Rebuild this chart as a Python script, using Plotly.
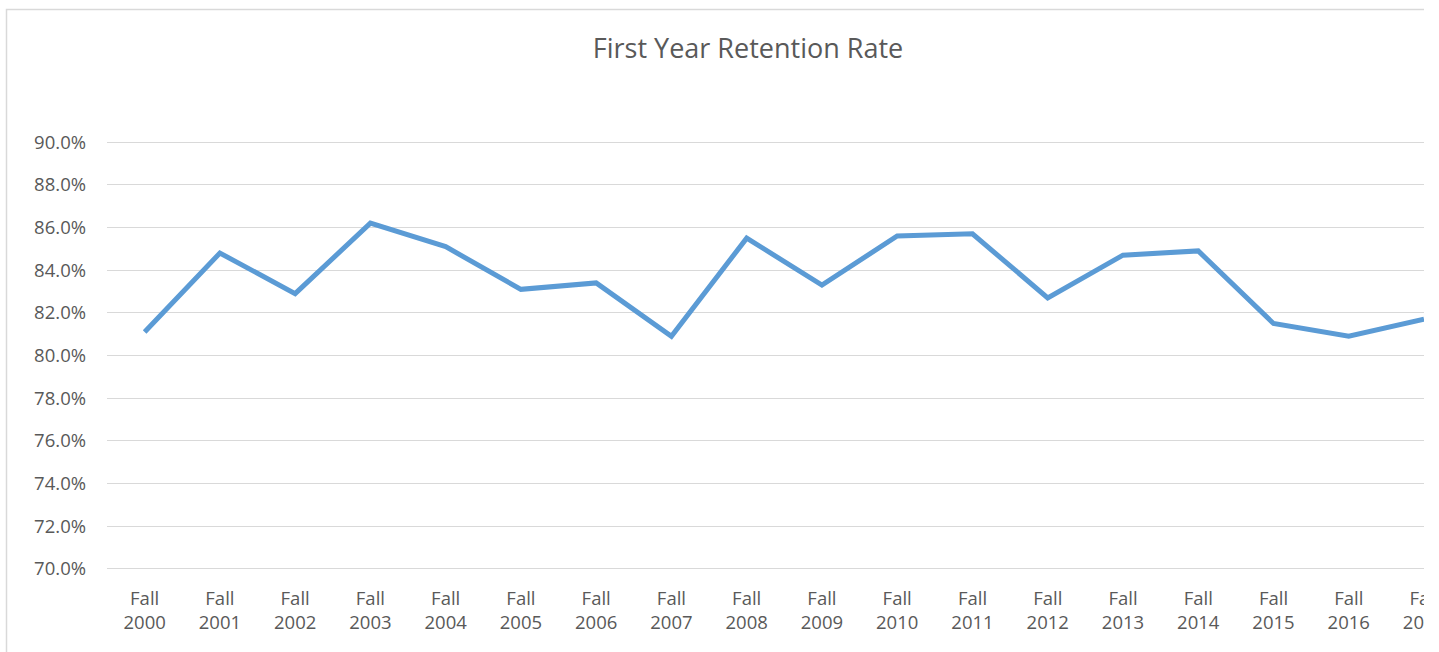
import plotly.graph_objects as go

categories = ["Fall<br>2000", "Fall<br>2001", "Fall<br>2002", "Fall<br>2003", "Fall<br>2004",
              "Fall<br>2005", "Fall<br>2006", "Fall<br>2007", "Fall<br>2008", "Fall<br>2009",
              "Fall<br>2010", "Fall<br>2011", "Fall<br>2012", "Fall<br>2013", "Fall<br>2014",
              "Fall<br>2015", "Fall<br>2016", "Fall<br>2017"]
retention = [81.1, 84.8, 82.9, 86.2, 85.1, 83.1, 83.4, 80.9, 85.5, 83.3,
             85.6, 85.7, 82.7, 84.7, 84.9, 81.5, 80.9, 81.7]
y_ticks = [70, 72, 74, 76, 78, 80, 82, 84, 86, 88, 90]
title_text = "First Year Retention Rate"

FONT = "'Open Sans', Lato, sans-serif"
GREY = "#595959"

fig = go.Figure()
fig.add_trace(go.Scatter(
    x=list(range(len(categories))), y=retention, mode="lines",
    line=dict(color="#5B9BD5", width=5), hoverinfo="skip", showlegend=False,
    cliponaxis=False,
))

W, H = 1424, 652
T, B = 141, 82
fig.update_layout(
    width=W, height=H,
    margin=dict(l=107, r=0, t=T, b=B, pad=0, autoexpand=False),
    paper_bgcolor="white", plot_bgcolor="white",
    font=dict(family=FONT, color=GREY, size=18.5),
    title=dict(text=title_text, x=748 / W, xref="container", xanchor="center",
               y=1 - 49 / H, yref="container", yanchor="middle",
               font=dict(family=FONT, size=27, color=GREY)),
    xaxis=dict(range=[-0.5, 17], tickmode="array", tickvals=list(range(len(categories))),
               ticktext=categories, showgrid=False, zeroline=False, showline=False,
               ticks="", ticklabelstandoff=15, ticklabeloverflow="allow",
               automargin=False, tickfont=dict(size=18.5, color=GREY)),
    yaxis=dict(range=[69.95, 90.05], tickmode="array", tickvals=y_ticks,
               ticktext=[f"{v:.1f}%" for v in y_ticks],
               showgrid=True, gridcolor="#d9d9d9", gridwidth=1.3, zeroline=False,
               showline=False, ticks="", ticklabelstandoff=20, automargin=False,
               tickfont=dict(size=18.5, color=GREY)),
    shapes=[dict(type="rect", xref="paper", yref="paper",
                 x0=(6.5 - 107) / (W - 107), x1=1.2,
                 y0=-0.5, y1=1 + (T - 9.5) / (H - T - B),
                 line=dict(color="#d9d9d9", width=1.5), fillcolor="rgba(0,0,0,0)",
                 layer="below")],
)

fig.write_html("out.html", config={"displayModeBar": False},
               post_script="document.body.style.margin='0';")
